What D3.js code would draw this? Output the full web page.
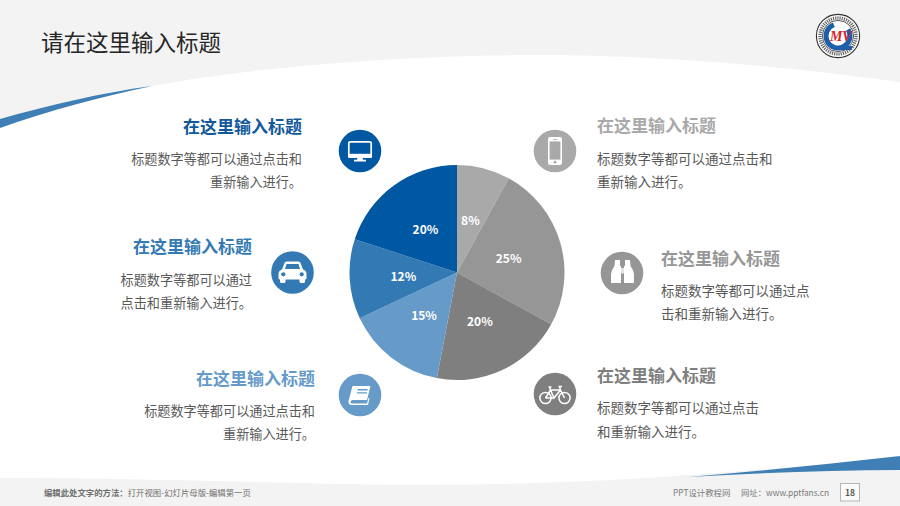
<!DOCTYPE html>
<html>
<head>
<meta charset="utf-8">
<script src="https://cdn.jsdelivr.net/npm/d3@7"></script>
<style>
html, body { margin: 0; padding: 0; background: #fff; }
svg { display: block; }
text { font-family: "Noto Sans CJK SC", "Noto Sans", sans-serif; }
</style>
</head>
<body>
<svg id="slide" width="900" height="506"></svg>
<script>
// pie values, clockwise from 12 o'clock
const values = [8, 25, 20, 15, 12, 20];
const sliceNames = ["phone", "binoculars", "bike", "book", "car", "monitor"];
const sliceColors = ["#a9a9a9", "#969696", "#7f7f7f", "#659ac9", "#337ab5", "#0058a2"];

const slideTitle = "请在这里输入标题";
const blockTitle = "在这里输入标题";
const blockLines = [
	["标题数字等都可以通过点击和", "重新输入进行。"],
	["标题数字等都可以通过点", "击和重新输入进行。"],
	["标题数字等都可以通过点击", "和重新输入进行。"],
	["标题数字等都可以通过点击和", "重新输入进行。"],
	["标题数字等都可以通过", "点击和重新输入进行。"],
	["标题数字等都可以通过点击和", "重新输入进行。"]
];

const footerBold = "编辑此处文字的方法：";
const footerPlain = "打开视图-幻灯片母版-编辑第一页";
const footerSite = "PPT设计教程网";
const footerUrl = "网址：www.pptfans.cn";
const pageNumber = "18";

// where each block sits, same order as the slices
const layout = [
	{ anchor: "start", x: 597, head: 126, l1: 159, l2: 182, ix: 555, iy: 151 },
	{ anchor: "start", x: 661, head: 259, l1: 291, l2: 314, ix: 622, iy: 273 },
	{ anchor: "start", x: 597, head: 376, l1: 408, l2: 432, ix: 555, iy: 394 },
	{ anchor: "end", x: 315, head: 379, l1: 411, l2: 434, ix: 360, iy: 395 },
	{ anchor: "end", x: 252, head: 247, l1: 280, l2: 303, ix: 292.5, iy: 272.5 },
	{ anchor: "end", x: 302, head: 127, l1: 159, l2: 182, ix: 360, iy: 151 }
];

const icons = {
	monitor(g, c){
		g.append("rect").attr("x", -11.2).attr("y", -9.2).attr("width", 22.4).attr("height", 15.4).attr("rx", 1.5)
			.attr("fill", c).attr("stroke", "#fff").attr("stroke-width", 1.7);
		g.append("rect").attr("x", -12).attr("y", 2.8).attr("width", 24).attr("height", 3.9).attr("fill", "#fff");
		g.append("path").attr("fill", "#fff").attr("d", "M-2.5,6.5 L2.5,6.5 L3,8.8 L6,8.8 L6,10.4 L-6,10.4 L-6,8.8 L-3,8.8 Z");
	},
	car(g, c){
		g.append("path").attr("fill", "#fff")
			.attr("d", "M-8,-9.5 Q-7.5,-11 -6,-11 L6,-11 Q7.5,-11 8,-9.5 L10.5,-3 Q14,-2 14,1.5 L14,5.5 Q14,7 12.5,7 L12.5,9 Q12.5,10.5 11,10.5 L8.5,10.5 Q7,10.5 7,9 L7,7 L-7,7 L-7,9 Q-7,10.5 -8.5,10.5 L-11,10.5 Q-12.5,10.5 -12.5,9 L-12.5,7 Q-14,7 -14,5.5 L-14,1.5 Q-14,-2 -10.5,-3 Z");
		g.append("path").attr("fill", c).attr("d", "M-6,-8.5 L6,-8.5 L7.5,-3.5 L-7.5,-3.5 Z");
		g.append("circle").attr("cx", -9.2).attr("cy", 1.8).attr("r", 2.1).attr("fill", c);
		g.append("circle").attr("cx", 9.2).attr("cy", 1.8).attr("r", 2.1).attr("fill", c);
	},
	phone(g, c){
		g.append("rect").attr("x", -7).attr("y", -14).attr("width", 14).attr("height", 28).attr("rx", 2.2).attr("fill", "#fff");
		g.append("rect").attr("x", -5.4).attr("y", -9.6).attr("width", 10.8).attr("height", 18.2).attr("fill", c);
		g.append("circle").attr("cy", 11.2).attr("r", 1.4).attr("fill", c);
		g.append("rect").attr("x", -2).attr("y", -12).attr("width", 4).attr("height", 0.8).attr("fill", c);
	},
	binoculars(g){
		g.append("path").attr("fill", "#fff")
			.attr("d", "M-7,-13 L-2,-13 L-2,-7 L-1,-7 L-1,10 L-11,10 L-11,1 Q-10,-4 -7.5,-7 Z");
		g.append("path").attr("fill", "#fff")
			.attr("d", "M8,-13 L3,-13 L3,-7 L2,-7 L2,10 L12,10 L12,1 Q11,-4 8.5,-7 Z");
		g.append("rect").attr("x", -1).attr("y", -5).attr("width", 3).attr("height", 5.5).attr("fill", "#fff").attr("opacity", 0.75);
	},
	book(g, c){
		g.append("path").attr("fill", "#fff")
			.attr("d", "M-7.5,-9 L10.5,-9 L7,5 L-7,5 Q-9.5,5 -9.5,7.5 Q-9.5,8.5 -7,8.5 L7,8.5 L8.5,3 L9.5,3 L8,10 L-8,10 Q-12,10 -11.5,6 Z");
		g.append("rect").attr("x", -3.5).attr("y", -6).attr("width", 10).attr("height", 1.4).attr("fill", c).attr("transform", "skewX(-12)");
		g.append("rect").attr("x", -3.5).attr("y", -2.8).attr("width", 10).attr("height", 1.4).attr("fill", c).attr("transform", "skewX(-12)");
	},
	bike(g){
		let s = { fill: "none", stroke: "#fff", "stroke-width": 1.5 };
		let line = g.append("path")
			.attr("d", "M-9.5,4 L-4.5,-4 L5.5,-4 L9.5,4 M-4.5,-4 L-1,4 L5.5,-4 M-9.5,4 L-1,4 M-6.5,-7 L-3.5,-7 M-5.5,-7 L-4.5,-4 M3.5,-7.5 L7,-7.5 M4.5,-7.5 L5.5,-4");
		[line,
			g.append("circle").attr("cx", -9.5).attr("cy", 4).attr("r", 5.6),
			g.append("circle").attr("cx", 9.5).attr("cy", 4).attr("r", 5.6)
		].forEach(el => Object.keys(s).forEach(k => el.attr(k, s[k])));
	}
};

const svg = d3.select("#slide");
const color = d3.scaleOrdinal().domain(sliceNames).range(sliceColors);

drawBackground();
drawPie();
drawBlocks();
drawLogo();
drawFooter();

svg.append("text").text(slideTitle).attr("x", 41).attr("y", 43).attr("dy", ".36em")
	.attr("font-size", 22.5).attr("fill", "#262626");

function drawBackground(){
	svg.append("rect").attr("width", 900).attr("height", 506).attr("fill", "#f3f3f3");
	// white body of the slide
	svg.append("path")
		.attr("fill", "#fff")
		.attr("d", "M0,128 C60,108 130,88 200,78 C320,60 480,52 600,56 C700,59 800,68 900,82 L900,460 C800,466 720,473 660,477 C560,484 420,487 300,483 C180,480 80,478 0,478 Z");
	// blue swooshes
	svg.append("path")
		.attr("fill", "#3f7fb5")
		.attr("d", "M0,119 C50,105 100,93 152,86 C100,97 50,110 0,128 Z");
	svg.append("path")
		.attr("fill", "#3f7fb5")
		.attr("d", "M688,477 C760,471 830,464 900,456 L900,470 C830,470 760,473 688,477 Z");
}

function drawPie(){
	let pie = d3.pie().sort(null).value(d => d.value);
	let arc = d3.arc().innerRadius(0).outerRadius(107.5);
	let data = values.map((v, i) => ({ value: v, name: sliceNames[i] }));

	let g = svg.append("g").attr("transform", "translate(457,272.5)");
	let groups = g.selectAll("g").data(pie(data)).enter().append("g");

	groups.append("path")
		.attr("d", arc)
		.attr("fill", d => color(d.data.name));

	groups.append("text")
		.text(d => d.data.value + "%")
		.attr("transform", d => "translate(" + arc.centroid(d) + ")")
		.attr("dy", ".42em")
		.attr("text-anchor", "middle")
		.attr("fill", "#fff")
		.attr("font-size", 12)
		.attr("font-weight", 700);
}

function drawBlocks(){
	layout.forEach((b, i) => {
		let c = color(sliceNames[i]);
		svg.append("text")
			.text(blockTitle)
			.attr("x", b.x)
			.attr("y", b.head)
			.attr("dy", ".36em")
			.attr("text-anchor", b.anchor)
			.attr("fill", i == 5 ? "#11589b" : c)
			.attr("font-size", 17)
			.attr("font-weight", 700);
		[b.l1, b.l2].forEach((y, k) => {
			svg.append("text")
				.text(blockLines[i][k])
				.attr("x", b.x)
				.attr("y", y)
				.attr("dy", ".36em")
				.attr("text-anchor", b.anchor)
				.attr("fill", "#595959")
				.attr("font-size", b.anchor == "start" ? 13.5 : 13.15);
		});
		let icon = svg.append("g").attr("transform", "translate(" + b.ix + "," + b.iy + ")");
		icon.append("circle").attr("r", 21.3).attr("fill", c);
		icons[sliceNames[i]](icon, c);
	});
}

function drawLogo(){
	let g = svg.append("g").attr("transform", "translate(838,36)");
	g.append("circle").attr("r", 21.6).attr("fill", "#fff").attr("stroke", "#333").attr("stroke-width", 1.1);
	g.append("circle").attr("r", 18).attr("fill", "none").attr("stroke", "#666").attr("stroke-width", 3.4).attr("stroke-dasharray", "1.2 1");
	g.append("circle").attr("r", 15.6).attr("fill", "none").attr("stroke", "#333").attr("stroke-width", 0.8);
	let c = d3.arc().innerRadius(9.5).outerRadius(14.5).startAngle(1.0).endAngle(Math.PI * 2 - 0.35);
	g.append("path").attr("d", c()).attr("fill", "#1d5fa8");
	g.append("path").attr("d", "M2,10 L15,10 L13,14 L1,14 Z").attr("fill", "#1d5fa8");
	g.append("text").text("M").attr("x", -8).attr("y", 5).attr("fill", "#d2232a")
		.attr("font-size", 14).attr("font-style", "italic").attr("font-weight", 700)
		.style("font-family", "'Liberation Serif', serif");
	g.append("text").text("V").attr("x", 4).attr("y", 5).attr("fill", "#d2232a")
		.attr("font-size", 14).attr("font-style", "italic").attr("font-weight", 700)
		.style("font-family", "'Liberation Serif', serif");
}

function drawFooter(){
	let left = svg.append("text").attr("x", 44).attr("y", 492.5).attr("dy", ".36em").attr("font-size", 8.4).attr("fill", "#6e6e6e");
	left.append("tspan").text(footerBold).attr("font-weight", 700);
	left.append("tspan").text(footerPlain);

	svg.append("text").text(footerSite).attr("x", 673).attr("y", 492.5).attr("dy", ".36em").attr("font-size", 8.4).attr("fill", "#7a7a7a");
	svg.append("text").text(footerUrl).attr("x", 741).attr("y", 492.5).attr("dy", ".36em").attr("font-size", 8.35).attr("fill", "#7a7a7a");

	svg.append("rect").attr("x", 840.5).attr("y", 483.5).attr("width", 19).attr("height", 17.5)
		.attr("fill", "#fafafa").attr("stroke", "#b5b5b5");
	svg.append("text").text(pageNumber).attr("x", 850).attr("y", 492.5).attr("dy", ".36em")
		.attr("text-anchor", "middle").attr("font-size", 8.5).attr("font-weight", 700).attr("fill", "#595959");
}
</script>
</body>
</html>
